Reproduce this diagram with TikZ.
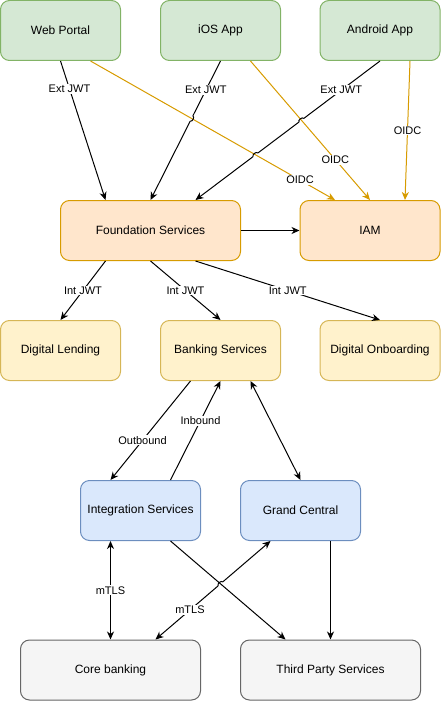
\documentclass[tikz,border=0pt]{standalone}
\usepackage{fontspec}
\setmainfont{Liberation Sans}
\usetikzlibrary{arrows.meta,calc,intersections}
\definecolor{gfill}{HTML}{D5E8D4}\definecolor{gline}{HTML}{82B366}
\definecolor{ofill}{HTML}{FFE6CC}\definecolor{oline}{HTML}{D79B00}
\definecolor{yfill}{HTML}{FFF2CC}\definecolor{yline}{HTML}{D6B656}
\definecolor{bfill}{HTML}{DAE8FC}\definecolor{bline}{HTML}{6C8EBF}
\definecolor{sfill}{HTML}{F5F5F5}\definecolor{sline}{HTML}{666666}
\begin{document}
\begin{tikzpicture}[x=1pt,y=-1pt,
  box/.style={draw, rounded corners=9pt, minimum width=120pt, minimum height=60pt, inner sep=0pt, line width=1pt, font=\fontsize{12}{14}\selectfont},
  gbox/.style={box, fill=gfill, draw=gline},
  obox/.style={box, fill=ofill, draw=oline},
  ybox/.style={box, fill=yfill, draw=yline},
  bbox/.style={box, fill=bfill, draw=bline},
  sbox/.style={box, fill=sfill, draw=sline},
  conn/.style={line width=1pt, -{Stealth[length=8pt,width=7pt,inset=2.5pt]}},
  biconn/.style={line width=1pt, {Stealth[length=8pt,width=7pt,inset=2.5pt]}-{Stealth[length=8pt,width=7pt,inset=2.5pt]}},
  oconn/.style={conn, draw=oline},
  lbl/.style={fill=white, inner sep=1pt, text=black, font=\fontsize{11}{13}\selectfont},
  bump/.style={line width=1pt}
]
\useasboundingbox (0,0) rectangle (441,701);

\node[gbox] (web) at (60.5,30.5) {Web Portal};
\node[gbox] (ios) at (220.5,30.5) {iOS App};
\node[gbox] (and) at (380,30.5) {Android App};
\node[obox, minimum width=180pt] (found) at (150.5,230.5) {Foundation Services};
\node[obox, minimum width=140pt] (iam) at (370,230.5) {IAM};
\node[ybox] (lend) at (60.5,350.5) {Digital Lending};
\node[ybox] (bank) at (220.5,350.5) {Banking Services};
\node[ybox] (onb) at (380,350.5) {Digital Onboarding};
\node[bbox] (int) at (140.5,510.5) {Integration Services};
\node[bbox] (gc) at (300.5,510.5) {Grand Central};
\node[sbox, minimum width=180pt] (core) at (110.5,670) {Core banking};
\node[sbox, minimum width=180pt] (third) at (330.5,670) {Third Party Services};

% endpoints
\coordinate (ios-s) at (ios.south);
\coordinate (and-s) at (and.south);
\coordinate (fn-c) at (found.north);
\coordinate (fn-r) at ([xshift=45pt]found.north);
\coordinate (gc-s) at ([xshift=-30pt]gc.south);
\coordinate (core-n) at ([xshift=45pt]core.north);

% black connectors that jump
\draw[conn] (web.south) -- node[lbl, pos=0.2] {Ext JWT} ([xshift=-45pt]found.north);
\draw[conn, name path=pios] (ios-s) -- node[lbl, pos=0.21] {Ext JWT} (fn-c);
\draw[conn, name path=pand] (and-s) -- node[lbl, pos=0.21] {Ext JWT} (fn-r);
\draw[biconn, name path=pgc] (gc-s) -- node[lbl, pos=0.7] {mTLS} (core-n);

% crossed paths (for intersections)
\path[name path=pwi] ([xshift=30pt]web.south) -- ([xshift=-35pt]iam.north);
\path[name path=pii] ([xshift=30pt]ios.south) -- (iam.north);
\path[name path=pit] ([xshift=30pt]int.south) -- ([xshift=-45pt]third.north);

\path[name intersections={of=pios and pwi, by=xa}];
\path[name intersections={of=pand and pii, by=xb}];
\path[name intersections={of=pand and pwi, by=xc}];
\path[name intersections={of=pgc and pit, by=xd}];
\foreach \p in {xa,xb,xc,xd} \fill[white] (\p) circle (3.2pt);

% orange connectors
\draw[oconn] ([xshift=30pt]web.south) -- node[lbl, pos=0.857] {OIDC} ([xshift=-35pt]iam.north);
\draw[oconn] ([xshift=30pt]ios.south) -- node[lbl, pos=0.71] {OIDC} (iam.north);
\draw[oconn] ([xshift=30pt]and.south) -- node[lbl, pos=0.5] {OIDC} ([xshift=35pt]iam.north);

% bumps
\draw[bump] ($(xa)!3pt!(ios-s)$) to[bend left=90] ($(xa)!3pt!(fn-c)$);
\draw[bump] ($(xb)!3pt!(and-s)$) to[bend right=90] ($(xb)!3pt!(fn-r)$);
\draw[bump] ($(xc)!3pt!(and-s)$) to[bend right=90] ($(xc)!3pt!(fn-r)$);
\draw[bump] ($(xd)!3pt!(gc-s)$) to[bend right=90] ($(xd)!3pt!(core-n)$);

\draw[conn] (found.east) -- (iam.west);
\draw[conn] ([xshift=-45pt]found.south) -- node[lbl, pos=0.5] {Int JWT} (lend.north);
\draw[conn] (found.south) -- node[lbl, pos=0.5] {Int JWT} (bank.north);
\draw[conn] ([xshift=45pt]found.south) -- node[lbl, pos=0.5] {Int JWT} (onb.north);

\draw[conn] ([xshift=-30pt]bank.south) -- node[lbl, pos=0.6] {Outbound} ([xshift=-30pt]int.north);
\draw[conn] ([xshift=30pt]int.north) -- node[lbl, pos=0.6] {Inbound} (bank.south);
\draw[biconn] ([xshift=30pt]bank.south) -- (gc.north);

\draw[biconn] ([xshift=-30pt]int.south) -- node[lbl, pos=0.5] {mTLS} (core.north);
\draw[conn] ([xshift=30pt]int.south) -- ([xshift=-45pt]third.north);
\draw[conn] ([xshift=30pt]gc.south) -- (third.north);
\end{tikzpicture}
\end{document}
